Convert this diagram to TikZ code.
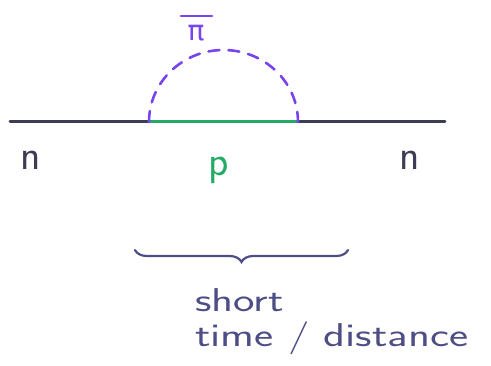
\documentclass[tikz,border=0pt]{standalone}
\usepackage{fontspec}
\newfontfamily\gk{DejaVu Sans}
\usetikzlibrary{decorations.pathreplacing}
\definecolor{neutron}{HTML}{3C3C52}
\definecolor{proton}{HTML}{22AA66}
\definecolor{pion}{HTML}{7744EE}
\definecolor{ink}{HTML}{4E4E86}
\tikzset{
  nline/.style={draw=neutron, line width=3pt, line cap=round},
  pline/.style={draw=proton, line width=3pt, line cap=round},
  pionline/.style={draw=pion, line width=2.6pt, dash pattern=on 11pt off 9pt, line cap=round},
  lbl/.style={font=\sffamily\fontsize{42}{42}\selectfont, inner sep=0pt},
  note/.style={text=ink, font=\sffamily\fontsize{33}{33}\selectfont, inner sep=0pt, xscale=1.38, anchor=base west},
}
\begin{document}
\begin{tikzpicture}[x=1pt,y=1pt]
\useasboundingbox (0,0) rectangle (491,365);
\coordinate (L) at (10,243);
\coordinate (v1) at (149,243);
\coordinate (v2) at (298,243);
\coordinate (R) at (445,243);
\draw[nline] (L) -- (v1);
\draw[pline] (v1) -- (v2);
\draw[nline] (v2) -- (R);
\draw[pionline] (v1) arc[start angle=180, end angle=0, x radius=74.5, y radius=72];
\node[inner sep=0pt, text=pion, font=\gk\fontsize{28}{28}\selectfont] (pi) at (196,332) {π};
\coordinate (barL) at (181,349);
\coordinate (barR) at (212,349);
\draw[draw=pion, line width=2.6pt, line cap=round] (barL) -- (barR);
\node[lbl, text=neutron] (n1) at (31,205) {n};
\node[lbl, text=proton] (p) at (219,195) {p};
\node[lbl, text=neutron] (n2) at (410,205) {n};
\coordinate (b1) at (135,115);
\coordinate (b2) at (348,115);
\draw[draw=ink, line width=2.2pt, line cap=round, decorate, decoration={brace, mirror, amplitude=12pt}] (b1) -- (b2);
\node[note] (short) at (195,54) {short};
\node[note] (dist) at (195,19) {time / distance};
\end{tikzpicture}
\end{document}
